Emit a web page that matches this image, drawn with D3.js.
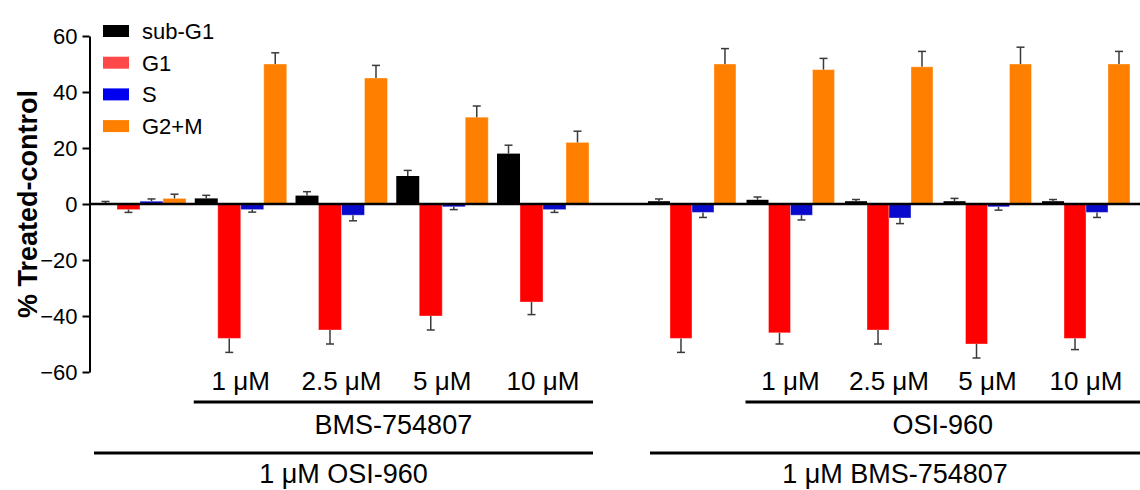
<!DOCTYPE html>
<html>
<head>
<meta charset="utf-8">
<script src="https://cdn.jsdelivr.net/npm/d3@7"></script>
<style>
  body { margin: 0; background: #fff; }
  text { font-family: "Liberation Sans", Arial, sans-serif; fill: #000; }
</style>
</head>
<body>
<svg id="chart" width="1140" height="490"></svg>
<script>
// phases and doses
const phases = ["sub-G1", "G1", "S", "G2+M"];
const doses = ["ctrl", "1 μM", "2.5 μM", "5 μM", "10 μM"];
const yTicks = [-60, -40, -20, 0, 20, 40, 60];

// panel 1: 1 uM OSI-960 + BMS-754807
const leftSubG1 = [0.2, 2, 3, 10, 18];
const leftG1 = [-2, -48, -45, -40, -35];
const leftS = [1, -2, -4, -1, -2];
const leftG2M = [2, 50, 45, 31, 22];
const leftSubG1Err = [0.7, 1.1, 1.4, 2, 3];
const leftG1Err = [1, 5, 5, 5, 4.5];
const leftSErr = [0.8, 0.9, 2, 1, 1];
const leftG2MErr = [1.5, 4, 4.5, 4, 4];

// panel 2: 1 uM BMS-754807 + OSI-960
const rightSubG1 = [1, 1.5, 1, 1, 1];
const rightG1 = [-48, -46, -45, -50, -48];
const rightS = [-3, -4, -5, -1, -3];
const rightG2M = [50, 48, 49, 50, 50];
const rightSubG1Err = [0.8, 1, 0.6, 1, 0.6];
const rightG1Err = [5, 4, 5, 5, 4];
const rightSErr = [1.8, 1.7, 2, 1.2, 1.8];
const rightG2MErr = [5.5, 4, 5.5, 6, 4.5];

const drugLabels = ["BMS-754807", "OSI-960"];
const baseLabels = ["1 μM OSI-960", "1 μM BMS-754807"];

const barColors = ["#000000", "#ff0000", "#0a0acc", "#ff8000"];
const legendColors = ["#000000", "#ff4848", "#0000f0", "#ff8000"];

const width = 1140;
const svg = d3.select("#chart");

const y = d3.scaleLinear().domain([-60, 60]).range([372, 36]);
const axisX = 89.5;

function panelRows(vals, errs) {
  return doses.map((d, i) => ({
    dose: d,
    bars: phases.map((p, j) => ({ phase: p, v: vals[j][i], e: errs[j][i], c: barColors[j] }))
  }));
}

const panels = [
  { range: [94, 589], pad: 0.087,
    rows: panelRows([leftSubG1, leftG1, leftS, leftG2M], [leftSubG1Err, leftG1Err, leftSErr, leftG2MErr]) },
  { range: [648, 1130], pad: 0.107,
    rows: panelRows([rightSubG1, rightG1, rightS, rightG2M], [rightSubG1Err, rightG1Err, rightSErr, rightG2MErr]) }
];

panels.forEach((pn, pi) => {
  const x0 = d3.scaleBand().domain(doses).range(pn.range).paddingInner(pn.pad).paddingOuter(0);
  const x1 = d3.scaleBand().domain(phases).range([0, x0.bandwidth()]);

  const g = svg.append("g");
  const grp = g.selectAll("g.grp").data(pn.rows).join("g")
    .attr("transform", d => `translate(${x0(d.dose)},0)`);

  grp.selectAll("rect").data(d => d.bars).join("rect")
    .attr("x", d => x1(d.phase))
    .attr("width", x1.bandwidth())
    .attr("y", d => y(Math.max(0, d.v)))
    .attr("height", d => Math.abs(y(d.v) - y(0)))
    .attr("fill", d => d.c)
    .attr("stroke", d => d.c === "#000000" ? "none" : "#fff")
    .attr("stroke-opacity", 0.35)
    .attr("stroke-width", 1);

  // error bars (one-sided, away from zero)
  const eb = grp.selectAll("g.err").data(d => d.bars).join("g")
    .attr("stroke", "#3a3a3a").attr("stroke-width", 1.5);
  eb.append("line")
    .attr("x1", d => x1(d.phase) + x1.bandwidth() / 2)
    .attr("x2", d => x1(d.phase) + x1.bandwidth() / 2)
    .attr("y1", d => y(d.v))
    .attr("y2", d => y(d.v + (d.v >= 0 ? d.e : -d.e)));
  eb.append("line")
    .attr("x1", d => x1(d.phase) + x1.bandwidth() / 2 - 4)
    .attr("x2", d => x1(d.phase) + x1.bandwidth() / 2 + 4)
    .attr("y1", d => y(d.v + (d.v >= 0 ? d.e : -d.e)))
    .attr("y2", d => y(d.v + (d.v >= 0 ? d.e : -d.e)));

  // dose labels
  g.selectAll("text.dose").data(doses.slice(1)).join("text")
    .attr("x", d => x0(d) + x0.bandwidth() / 2)
    .attr("y", 390)
    .attr("text-anchor", "middle")
    .attr("font-size", 26)
    .text(d => d);

  const end = pi === 1 ? width : pn.range[1] + 4;
  const doseStart = x0(doses[1]) - 1;
  g.append("line").attr("x1", doseStart).attr("x2", end)
    .attr("y1", 402).attr("y2", 402).attr("stroke", "#000").attr("stroke-width", 3);
  g.append("text").attr("x", (doseStart + end) / 2).attr("y", 434)
    .attr("text-anchor", "middle").attr("font-size", 27).text(drugLabels[pi]);

  const baseStart = pn.range[0] + (pi === 1 ? 2 : 0);
  g.append("line").attr("x1", baseStart).attr("x2", end)
    .attr("y1", 453).attr("y2", 453).attr("stroke", "#000").attr("stroke-width", 3);
  g.append("text").attr("x", (baseStart + end) / 2).attr("y", 483)
    .attr("text-anchor", "middle").attr("font-size", 27).text(baseLabels[pi]);
});

// zero line
svg.append("line")
  .attr("x1", axisX).attr("x2", width)
  .attr("y1", y(0)).attr("y2", y(0))
  .attr("stroke", "#000").attr("stroke-width", 2.5);

// y axis
const yAxis = svg.append("g")
  .attr("transform", `translate(${axisX},0)`)
  .call(d3.axisLeft(y).tickValues(yTicks).tickSize(7).tickSizeOuter(0).tickPadding(5));
yAxis.select(".domain").attr("stroke-width", 2);
yAxis.selectAll(".tick line").attr("stroke-width", 2);
yAxis.selectAll(".tick text")
  .attr("font-size", 22)
  .attr("font-family", "\"Liberation Sans\", Arial, sans-serif")
  .attr("fill", "#000");

svg.append("text")
  .attr("transform", `translate(37,${y(0)}) rotate(-90)`)
  .attr("text-anchor", "middle")
  .attr("font-size", 27)
  .attr("font-weight", "bold")
  .text("% Treated-control");

// legend
const leg = svg.append("g").selectAll("g").data(phases).join("g")
  .attr("transform", (d, i) => `translate(103,${25 + i * 31.7})`);
leg.append("rect").attr("width", 26).attr("height", 12)
  .attr("fill", (d, i) => legendColors[i]);
leg.append("text").attr("x", 39).attr("y", 14).attr("font-size", 22).text(d => d);
</script>
</body>
</html>
